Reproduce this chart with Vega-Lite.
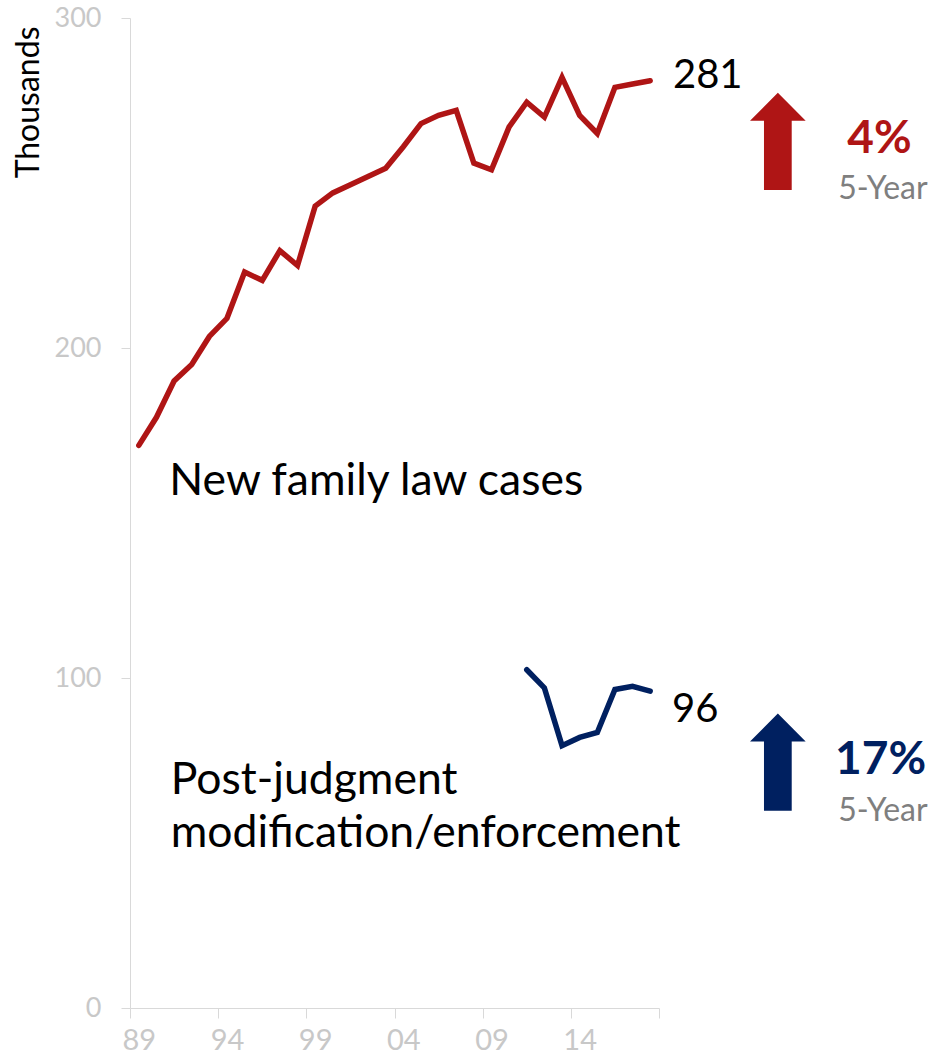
{
  "$schema": "https://vega.github.io/schema/vega-lite/v6.json",
  "autosize": "none",
  "width": 529,
  "height": 990,
  "padding": {"left": 130, "top": 18, "right": 276, "bottom": 56},
  "background": "white",
  "config": {
    "view": {"stroke": null},
    "font": "Lato",
    "axis": {"grid": false, "labelFont": "Lato", "titleFont": "Lato"}
  },
  "datasets": {
    "series": [
      {"year": 1989, "value": 170.5, "series": "new"},
      {"year": 1990, "value": 179, "series": "new"},
      {"year": 1991, "value": 190, "series": "new"},
      {"year": 1992, "value": 195, "series": "new"},
      {"year": 1993, "value": 203.5, "series": "new"},
      {"year": 1994, "value": 209, "series": "new"},
      {"year": 1995, "value": 223, "series": "new"},
      {"year": 1996, "value": 220.5, "series": "new"},
      {"year": 1997, "value": 229.5, "series": "new"},
      {"year": 1998, "value": 225, "series": "new"},
      {"year": 1999, "value": 243, "series": "new"},
      {"year": 2000, "value": 247, "series": "new"},
      {"year": 2001, "value": 249.5, "series": "new"},
      {"year": 2002, "value": 252, "series": "new"},
      {"year": 2003, "value": 254.5, "series": "new"},
      {"year": 2004, "value": 261, "series": "new"},
      {"year": 2005, "value": 268, "series": "new"},
      {"year": 2006, "value": 270.5, "series": "new"},
      {"year": 2007, "value": 272, "series": "new"},
      {"year": 2008, "value": 256, "series": "new"},
      {"year": 2009, "value": 254, "series": "new"},
      {"year": 2010, "value": 267, "series": "new"},
      {"year": 2011, "value": 274.5, "series": "new"},
      {"year": 2012, "value": 270, "series": "new"},
      {"year": 2013, "value": 282, "series": "new"},
      {"year": 2014, "value": 270.5, "series": "new"},
      {"year": 2015, "value": 265, "series": "new"},
      {"year": 2016, "value": 279, "series": "new"},
      {"year": 2017, "value": 280, "series": "new"},
      {"year": 2018, "value": 281, "series": "new"},
      {"year": 2011, "value": 102.5, "series": "post"},
      {"year": 2012, "value": 97, "series": "post"},
      {"year": 2013, "value": 79.5, "series": "post"},
      {"year": 2014, "value": 82, "series": "post"},
      {"year": 2015, "value": 83.5, "series": "post"},
      {"year": 2016, "value": 96.5, "series": "post"},
      {"year": 2017, "value": 97.5, "series": "post"},
      {"year": 2018, "value": 96, "series": "post"}
    ],
    "endlabels": [
      {"year": 2019.29, "value": 278.7, "text": "281"},
      {"year": 2019.24, "value": 86.7, "text": "96"}
    ],
    "names": [
      {"year": 1990.73, "value": 155.4, "text": "New family law cases"},
      {"year": 1990.81, "value": 64.85, "text": "Post-judgment"},
      {"year": 1990.81, "value": 48.66, "text": "modification/enforcement"}
    ],
    "pct": [
      {"year": 2031.0, "value": 259, "text": "4%", "series": "new"},
      {"year": 2031.07, "value": 71, "text": "17%", "series": "post"}
    ],
    "fiveyear": [
      {"year": 2031.2, "value": 245.1, "text": "5-Year"},
      {"year": 2031.2, "value": 56.8, "text": "5-Year"}
    ],
    "arrows": [
      {"year": 2025.24, "value": 262.6, "series": "new"},
      {"year": 2025.24, "value": 74.5, "series": "post"}
    ]
  },
  "encoding": {
    "x": {
      "field": "year",
      "type": "quantitative",
      "scale": {"domain": [1988.5, 2018.5], "nice": false, "zero": false},
      "axis": {
        "title": null,
        "values": [1988.5, 1993.5, 1998.5, 2003.5, 2008.5, 2013.5, 2018.5],
        "labelExpr": "datum.value > 2018 ? '' : substring(toString(datum.value + 0.5), 2, 4)",
        "labelOffset": 8.8,
        "labelFontSize": 29,
        "labelColor": "#c8c8c8",
        "labelPadding": 8,
        "labelFlush": false,
        "labelOverlap": false,
        "tickSize": 10,
        "tickColor": "#d9d9d9",
        "domainColor": "#d9d9d9",
        "tickWidth": 1,
        "domainWidth": 1
      }
    },
    "y": {
      "field": "value",
      "type": "quantitative",
      "scale": {"domain": [0, 300], "nice": false},
      "axis": {
        "title": "Thousands",
        "values": [0, 100, 200, 300],
        "labelFontSize": 27,
        "labelColor": "#c8c8c8",
        "labelPadding": 20,
        "labelFlush": false,
        "tickSize": 9,
        "tickColor": "#d9d9d9",
        "domainColor": "#d9d9d9",
        "titleFontSize": 32,
        "titleFontWeight": "normal",
        "titleColor": "#000000",
        "titleAngle": -90,
        "titleAlign": "right",
        "titleBaseline": "alphabetic",
        "titleX": -92,
        "titleY": 8
      }
    }
  },
  "layer": [
    {
      "data": {"name": "series"},
      "mark": {"type": "line", "strokeWidth": 5.5, "strokeCap": "round"},
      "encoding": {
        "color": {"field": "series", "type": "nominal", "scale": {"domain": ["new", "post"], "range": ["#AF1515", "#002060"]}, "legend": null},
        "detail": {"field": "series"}
      }
    },
    {
      "data": {"name": "endlabels"},
      "mark": {"type": "text", "align": "left", "baseline": "alphabetic", "fontSize": 40, "color": "#000000"},
      "encoding": {"text": {"field": "text"}}
    },
    {
      "data": {"name": "names"},
      "mark": {"type": "text", "align": "left", "baseline": "alphabetic", "fontSize": 44.5, "color": "#000000"},
      "encoding": {"text": {"field": "text"}}
    },
    {
      "data": {"name": "arrows"},
      "mark": {"type": "point", "filled": true, "opacity": 1, "size": 9467, "strokeWidth": 0, "shape": "M0,-1L0.572,-0.424L0.285,-0.424L0.285,1L-0.285,1L-0.285,-0.424L-0.572,-0.424Z"},
      "encoding": {
        "color": {"field": "series", "type": "nominal", "legend": null}
      }
    },
    {
      "data": {"name": "pct"},
      "mark": {"type": "text", "align": "center", "baseline": "alphabetic", "fontSize": 46, "fontWeight": "bold"},
      "encoding": {
        "text": {"field": "text"},
        "color": {"field": "series", "type": "nominal", "legend": null}
      }
    },
    {
      "data": {"name": "fiveyear"},
      "mark": {"type": "text", "align": "center", "baseline": "alphabetic", "fontSize": 32, "color": "#7f7f7f"},
      "encoding": {"text": {"field": "text"}}
    }
  ]
}
